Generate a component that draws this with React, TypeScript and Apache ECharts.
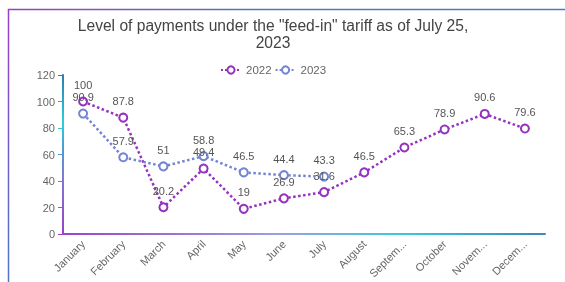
import React, { useEffect, useRef } from "react";
import * as echarts from "echarts";

const categories = ["January", "February", "March", "April", "May", "June", "July", "August", "September", "October", "November", "December"];
const series2022 = [100, 87.8, 20.2, 49.4, 19, 26.9, 31.6, 46.5, 65.3, 78.9, 90.6, 79.6];
const series2023 = [90.9, 57.9, 51, 58.8, 46.5, 44.4, 43.3];
const seriesNames = ["2022", "2023"];
const titleText = 'Level of payments under the "feed-in" tariff as of July 25,\n2023';

const PURPLE = "#9532be";
const BLUE = "#7484d4";

export default function App() {
  const ref = useRef<HTMLDivElement>(null);
  useEffect(() => {
    if (!ref.current) return;
    const chart = echarts.init(ref.current, null, { renderer: "svg" });
    const left = 63, right = 545, top = 75, bottom = 234;
    const xGrad = new echarts.graphic.LinearGradient(left, 0, right, 0, [
      { offset: 0, color: "#9b45c8" },
      { offset: 0.45, color: "#9aa0e0" },
      { offset: 0.7, color: "#3cc8dc" },
      { offset: 1, color: "#3a8ab8" },
    ], true);
    const yGrad = new echarts.graphic.LinearGradient(0, bottom, 0, top, [
      { offset: 0, color: "#9b40c4" },
      { offset: 0.35, color: "#7f7ad0" },
      { offset: 0.55, color: "#4a9ed0" },
      { offset: 0.7, color: "#2ccfd8" },
      { offset: 1, color: "#2a7fae" },
    ], true);
    const ringStroke = (c: string, halo: string) =>
      new echarts.graphic.RadialGradient(0.5, 0.5, 0.5, [
        { offset: 0, color: c },
        { offset: 0.97, color: c },
        { offset: 1, color: halo },
      ]);
    const itemStyle = (c: string, halo: string) => ({
      color: c,
      borderColor: ringStroke(c, halo),
      borderWidth: 4.5,
    });
    const label = { show: true, position: "top", color: "#555", fontSize: 11, distance: 6 };
    chart.setOption({
      animation: false,
      title: {
        text: titleText,
        left: 268,
        top: 12,
        textAlign: "center",
        textStyle: { fontSize: 15.6, fontWeight: "normal", color: "#444", lineHeight: 17, fontFamily: "Liberation Sans, Arial, sans-serif" },
      },
      legend: {
        data: seriesNames,
        top: 64,
        left: 220,
        padding: 0,
        itemGap: 3,
        itemWidth: 20,
        itemHeight: 9,
        textStyle: { color: "#666", fontSize: 11.5 },
      },
      graphic: [
        {
          type: "rect",
          shape: { x: 8.5, y: 9.5, width: 620, height: 320 },
          style: {
            fill: "none",
            lineWidth: 1.5,
            stroke: new echarts.graphic.LinearGradient(8, 9, 290, 290, [
              { offset: 0, color: "#9a3fc8" },
              { offset: 0.5, color: "#4a7ac8" },
              { offset: 1, color: "#4a7ac8" },
            ], true),
          },
          z: -1,
        },
      ],
      grid: { left, right: 565 - right, top, bottom: 282 - bottom, outerBoundsMode: "none", containLabel: false },
      xAxis: {
        type: "category",
        data: categories,
        boundaryGap: true,
        axisLine: { lineStyle: { color: xGrad, width: 2 } },
        axisTick: { lineStyle: { color: xGrad } },
        axisLabel: {
          rotate: 45,
          color: "#666",
          fontSize: 11,
          interval: 0,
          width: 50,
          overflow: "truncate",
          ellipsis: "...",
        },
      },
      yAxis: {
        type: "value",
        min: 0,
        max: 120,
        interval: 20,
        axisLine: { show: true, lineStyle: { color: yGrad, width: 2 } },
        axisTick: { show: true, lineStyle: { color: yGrad } },
        splitLine: { show: false },
        axisLabel: { color: "#666", fontSize: 11 },
      },
      series: [
        {
          name: seriesNames[0],
          type: "line",
          data: series2022,
          symbol: "emptyCircle",
          symbolSize: 8,
          lineStyle: { type: "dotted", width: 2.5, color: PURPLE },
          itemStyle: itemStyle(PURPLE, "rgba(149,50,190,0.35)"),
          label,
        },
        {
          name: seriesNames[1],
          type: "line",
          data: series2023,
          symbol: "emptyCircle",
          symbolSize: 8,
          lineStyle: { type: "dotted", width: 2.5, color: BLUE },
          itemStyle: itemStyle(BLUE, "rgba(116,132,212,0.35)"),
          label,
        },
      ],
    });
    return () => chart.dispose();
  }, []);
  return <div ref={ref} style={{ position: "fixed", left: 0, top: 0, width: 565, height: 282 }} />;
}
